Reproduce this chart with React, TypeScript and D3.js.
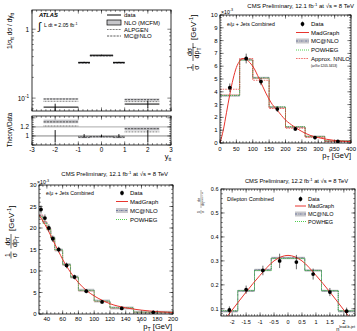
import * as d3 from "d3";
import { useEffect, useRef } from "react";

const FONT = "'Liberation Sans', Arial, Helvetica, sans-serif";
const RED = "#e8352e";
const PINK = "#f2a3a3";
const GREEN = "#3cc83c";
const BAND = "#c6c6ca";
const BLUEDASH = "#4a5a8c";

// ATLAS y_tt panel
const yttEdges = [-2.5, -1, -0.5, 0.5, 1, 2.5];
const yttData = [0.074, 0.33, 0.42, 0.33, 0.082];
const yttErr = [0.009, 0.006, 0.006, 0.006, 0.01];
const yttNloLo = [0.095, 0.318, 0.405, 0.318, 0.092];
const yttNloHi = [0.1, 0.33, 0.42, 0.33, 0.099];
const yttAlpgen = [0.09, 0.33, 0.415, 0.33, 0.089];
const yttMcnlo = [0.097, 0.322, 0.41, 0.322, 0.095];
const ratioNloLo = [1.28, 0.95, 0.96, 0.95, 1.12];
const ratioNloHi = [1.36, 0.99, 1.0, 0.99, 1.2];
const ratioAlpgen = [1.22, 0.99, 0.99, 0.99, 1.09];
const ratioMcnlo = [1.31, 0.97, 0.98, 0.97, 1.16];
const ratioErr = [0.13, 0.04, 0.03, 0.04, 0.13];
const yttTicks = [-3, -2, -1, 0, 1, 2, 3];

// top pT panel (x 10^-3)
const ptEdges = [0, 60, 100, 150, 200, 260, 320, 400];
const ptData = [4.32, 6.6, 4.8, 2.65, 1.1, 0.42, 0.12];
const ptErr = [0.25, 0.3, 0.2, 0.15, 0.08, 0.05, 0.03];
const ptMcnlo = [3.7, 6.5, 5.1, 2.8, 1.25, 0.5, 0.15];
const ptPowheg = [3.72, 6.48, 5.08, 2.82, 1.27, 0.51, 0.16];
const ptMadgraph = [3.75, 6.55, 5.05, 2.75, 1.22, 0.48, 0.14];
const ptNnlo = [4.2, 6.6, 4.9, 2.7, 1.15, 0.45, 0.13];
const ptCurveX = [0, 10, 20, 30, 40, 50, 60, 70, 80, 90, 100, 120, 140, 160, 175, 200, 225, 250, 275, 300, 350, 400];
const ptCurveY = [0, 1.0, 2.4, 3.8, 5.0, 5.9, 6.4, 6.6, 6.55, 6.3, 6.0, 5.0, 3.9, 3.0, 2.55, 1.8, 1.3, 0.9, 0.6, 0.42, 0.2, 0.1];
const ptTicks = [0, 50, 100, 150, 200, 250, 300, 350, 400];
const ptYTicks = [0, 1, 2, 3, 4, 5, 6, 7, 8, 9, 10];

// lepton pT panel (x 10^-3)
const lepEdges = [30, 35, 40, 45, 50, 60, 70, 80, 100, 120, 150, 200];
const lepData = [24.3, 22.3, 20.0, 17.5, 15.0, 11.3, 8.6, 5.3, 2.8, 1.3, 0.4];
const lepErr = [0.6, 0.5, 0.5, 0.4, 0.3, 0.3, 0.2, 0.15, 0.1, 0.05, 0.03];
const lepMcnlo = [22.8, 21.3, 19.8, 17.8, 14.9, 11.5, 8.6, 5.5, 3.0, 1.4, 0.4];
const lepPowheg = [22.6, 21.1, 19.6, 17.7, 14.9, 11.5, 8.6, 5.5, 3.0, 1.45, 0.42];
const lepMadgraph = [23.0, 21.5, 19.9, 17.7, 14.8, 11.4, 8.5, 5.4, 2.9, 1.35, 0.38];
const lepCurveX = [30, 35, 40, 45, 50, 55, 60, 70, 80, 90, 100, 110, 120, 140, 160, 180, 200];
const lepCurveY = [23, 21.6, 20, 18.2, 16.3, 14.5, 12.7, 9.7, 7.3, 5.5, 4.2, 3.2, 2.4, 1.45, 0.9, 0.55, 0.35];
const lepTicks = [40, 60, 80, 100, 120, 140, 160, 180, 200];
const lepYTicks = [0, 5, 10, 15, 20, 25, 30];

// leading b-jet eta panel
const etaEdges = [-2.4, -1.8, -1.2, -0.6, 0, 0.6, 1.2, 1.8, 2.4];
const etaData = [0.095, 0.18, 0.26, 0.3, 0.295, 0.245, 0.17, 0.09];
const etaErr = [0.01, 0.012, 0.015, 0.025, 0.025, 0.018, 0.012, 0.01];
const etaMcnlo = [0.09, 0.175, 0.262, 0.312, 0.312, 0.26, 0.175, 0.09];
const etaPowheg = [0.092, 0.176, 0.26, 0.31, 0.31, 0.26, 0.176, 0.092];
const etaCurveX = [-2.4, -2.0, -1.5, -1.0, -0.5, 0, 0.5, 1.0, 1.5, 2.0, 2.4];
const etaCurveY = [0.035, 0.095, 0.17, 0.24, 0.3, 0.323, 0.3, 0.24, 0.17, 0.095, 0.035];
const etaTicks = [-2, -1.5, -1, -0.5, 0, 0.5, 1, 1.5, 2];
const etaYTicks = [0.1, 0.2, 0.3, 0.4, 0.5, 0.6];

function rich(g: any, x: number, y: number, parts: any[], size: number, anchor = "start") {
  const t = g.append("text").attr("x", x).attr("y", y).attr("font-size", size).attr("text-anchor", anchor);
  let cur = 0;
  parts.forEach(([s, k]: any) => {
    const off = k === "sup" ? -size * 0.4 : k === "sub" ? size * 0.28 : 0;
    t.append("tspan").attr("dy", off - cur).attr("font-size", k === "sup" || k === "sub" ? size * 0.7 : size).text(s);
    cur = off;
  });
  return t;
}

function frame(g: any, x: any, y: any, o: any) {
  const [xl, xr] = x.range();
  const [yb, yt] = y.range();
  const p = d3.path();
  const inX = (v: number) => v >= x.domain()[0] - 1e-9 && v <= x.domain()[1] + 1e-9;
  const inY = (v: number) => v >= y.domain()[0] - 1e-9 && v <= y.domain()[1] + 1e-9;
  const xt = (v: number, len: number) => {
    if (!inX(v)) return;
    const px = x(v);
    p.moveTo(px, yb); p.lineTo(px, yb - len);
    p.moveTo(px, yt); p.lineTo(px, yt + len);
  };
  const yt2 = (v: number, len: number) => {
    if (!inY(v)) return;
    const py = y(v);
    p.moveTo(xl, py); p.lineTo(xl + len, py);
    p.moveTo(xr, py); p.lineTo(xr - len, py);
  };
  o.xMinor.forEach((v: number) => xt(v, 1.8));
  o.xMajor.forEach((v: number) => xt(v, 3.6));
  o.yMinor.forEach((v: number) => yt2(v, 1.8));
  o.yMajor.forEach((v: number) => yt2(v, 3.6));
  g.append("path").attr("d", p.toString()).attr("stroke", "#000").attr("stroke-width", 0.5).attr("fill", "none");
  g.append("rect").attr("x", xl).attr("y", yt).attr("width", xr - xl).attr("height", yb - yt)
    .attr("fill", "none").attr("stroke", "#000").attr("stroke-width", 0.8);
}

function stepPts(edges: number[], vals: number[]) {
  const pts: number[][] = [];
  vals.forEach((v, i) => { pts.push([edges[i], v]); pts.push([edges[i + 1], v]); });
  return pts;
}

function drawAtlas(g: any) {
  const x = d3.scaleLinear().domain([-3, 3]).range([32, 171]);
  const y = d3.scaleLog().domain([0.065, 1.9]).range([111, 10]);
  const yr = d3.scaleLinear().domain([0.8, 1.44]).range([145, 116]);
  const bins = yttData.map((_, i) => i);
  const seg = (sc: any, vals: number[], dash: string, w: number, col: string) => {
    bins.forEach((i) => {
      g.append("line").attr("x1", x(yttEdges[i])).attr("x2", x(yttEdges[i + 1]))
        .attr("y1", sc(vals[i])).attr("y2", sc(vals[i]))
        .attr("stroke", col).attr("stroke-width", w).attr("stroke-dasharray", dash);
    });
  };
  // upper pad
  bins.forEach((i) => {
    g.append("rect").attr("x", x(yttEdges[i])).attr("width", x(yttEdges[i + 1]) - x(yttEdges[i]))
      .attr("y", y(yttNloHi[i])).attr("height", Math.max(1.5, y(yttNloLo[i]) - y(yttNloHi[i])))
      .attr("fill", BAND);
  });
  seg(y, yttMcnlo, "2.2,1", 0.8, "#333");
  seg(y, yttAlpgen, "0.8,0.7", 0.8, "#333");
  seg(y, yttData, "", 1, "#000");
  bins.forEach((i) => {
    const cx = x((yttEdges[i] + yttEdges[i + 1]) / 2 + (i === 0 ? -0.5 : i === 4 ? 0.5 : 0) * 0.5);
    g.append("line").attr("x1", cx).attr("x2", cx).attr("y1", y(yttData[i] - yttErr[i])).attr("y2", y(yttData[i] + yttErr[i]))
      .attr("stroke", "#000").attr("stroke-width", 0.9);
  });
  frame(g, x, y, {
    xMajor: yttTicks, xMinor: d3.range(-3, 3.01, 0.2),
    yMajor: [0.1, 1], yMinor: [0.07, 0.08, 0.09, 0.2, 0.3, 0.4, 0.5, 0.6, 0.7, 0.8, 0.9],
  });
  rich(g, 29, y(1) + 2.5, [["1", "n"]], 6.5, "end");
  rich(g, 29, y(0.1) + 2.5, [["10", "n"], ["-1", "sup"]], 6.5, "end");

  // lower pad
  g.append("line").attr("x1", 32).attr("x2", 171).attr("y1", yr(1.2)).attr("y2", yr(1.2)).attr("stroke", "#bbb").attr("stroke-width", 1.4);
  g.append("line").attr("x1", 32).attr("x2", 171).attr("y1", yr(1)).attr("y2", yr(1)).attr("stroke", "#777").attr("stroke-width", 0.9);
  bins.forEach((i) => {
    g.append("rect").attr("x", x(yttEdges[i])).attr("width", x(yttEdges[i + 1]) - x(yttEdges[i]))
      .attr("y", yr(ratioNloHi[i])).attr("height", yr(ratioNloLo[i]) - yr(ratioNloHi[i]))
      .attr("fill", BAND);
  });
  seg(yr, ratioMcnlo, "2.2,1", 0.8, "#333");
  seg(yr, ratioAlpgen, "0.8,0.7", 0.8, "#333");
  bins.forEach((i) => {
    const cx = x((yttEdges[i] + yttEdges[i + 1]) / 2 + (i === 0 ? -0.5 : i === 4 ? 0.5 : 0) * 0.5);
    g.append("line").attr("x1", cx).attr("x2", cx).attr("y1", yr(1 - ratioErr[i])).attr("y2", yr(1 + ratioErr[i]))
      .attr("stroke", "#000").attr("stroke-width", 0.9);
  });
  frame(g, x, yr, {
    xMajor: yttTicks, xMinor: d3.range(-3, 3.01, 0.2),
    yMajor: [0.8, 1, 1.2, 1.4], yMinor: d3.range(0.8, 1.44, 0.05),
  });
  rich(g, 29, yr(1.2) + 2.3, [["1.2", "n"]], 6.3, "end");
  rich(g, 29, yr(1) + 2.3, [["1", "n"]], 6.3, "end");
  yttTicks.forEach((v) => rich(g, x(v), 152, [[String(v), "n"]], 6.3, "middle"));
  rich(g, 168, 159, [["y", "n"], ["tt", "sub"]], 7.5, "middle");

  // axis titles
  const yt = g.append("g").attr("transform", "translate(12,31) rotate(-90)");
  rich(yt, 0, 0, [["1/σ", "n"], ["tt", "sub"], [" dσ / dy", "n"], ["tt", "sub"]], 6.5, "middle");
  const rt = g.append("g").attr("transform", "translate(12,130) rotate(-90)");
  rich(rt, 0, 0, [["Theory/Data", "n"]], 6.3, "middle");

  // labels and legend
  g.append("text").attr("x", 39).attr("y", 17).attr("font-size", 5.8).attr("font-weight", "bold").attr("font-style", "italic").text("ATLAS");
  g.append("text").attr("x", 38).attr("y", 30).attr("font-size", 11).text("∫");
  rich(g, 44, 27, [["L dt = 2.05 fb", "n"], ["-1", "sup"]], 5.2);
  const ly = [15, 22.5, 29.5, 36];
  g.append("line").attr("x1", 107).attr("x2", 121).attr("y1", ly[0]).attr("y2", ly[0]).attr("stroke", "#000").attr("stroke-width", 1);
  g.append("rect").attr("x", 107).attr("y", ly[1] - 2.5).attr("width", 14).attr("height", 5).attr("fill", BAND).attr("stroke", "#000").attr("stroke-width", 0.7);
  g.append("line").attr("x1", 107).attr("x2", 121).attr("y1", ly[2]).attr("y2", ly[2]).attr("stroke", "#333").attr("stroke-width", 0.8).attr("stroke-dasharray", "0.8,0.7");
  g.append("line").attr("x1", 107).attr("x2", 121).attr("y1", ly[3]).attr("y2", ly[3]).attr("stroke", "#333").attr("stroke-width", 0.8).attr("stroke-dasharray", "2.2,1");
  ["data", "NLO (MCFM)", "ALPGEN", "MC@NLO"].forEach((s, i) => rich(g, 124, ly[i] + 2, [[s, "n"]], 6));
}

function drawCms(g: any, c: any) {
  const x = c.x, y = c.y;
  const clipId = c.id;
  g.append("clipPath").attr("id", clipId).append("rect")
    .attr("x", x.range()[0]).attr("y", y.range()[1]).attr("width", x.range()[1] - x.range()[0]).attr("height", y.range()[0] - y.range()[1]);
  const pg = g.append("g").attr("clip-path", `url(#${clipId})`);
  const line = d3.line().x((d: any) => x(d[0])).y((d: any) => y(d[1]));
  const area = d3.area().x((d: any) => x(d[0])).y0((d: any) => y(d[1] - c.band)).y1((d: any) => y(d[1] + c.band));
  pg.append("path").attr("d", area(stepPts(c.edges, c.mcnlo) as any)).attr("fill", BAND);
  if (c.madgraph)
    pg.append("path").attr("d", line(stepPts(c.edges, c.madgraph) as any)).attr("fill", "none").attr("stroke", PINK).attr("stroke-width", 1);
  else
    pg.append("path").attr("d", line(stepPts(c.edges, c.mcnlo) as any)).attr("fill", "none").attr("stroke", "#888").attr("stroke-width", 0.6);
  pg.append("path").attr("d", line(stepPts(c.edges, c.mcnlo) as any)).attr("fill", "none").attr("stroke", BLUEDASH).attr("stroke-width", 0.7).attr("stroke-dasharray", "2,1,0.6,1");
  pg.append("path").attr("d", line(stepPts(c.edges, c.powheg) as any)).attr("fill", "none").attr("stroke", GREEN).attr("stroke-width", 0.9).attr("stroke-dasharray", "1,1");
  if (c.nnlo)
    pg.append("path").attr("d", line(stepPts(c.edges, c.nnlo) as any)).attr("fill", "none").attr("stroke", RED).attr("stroke-width", 0.7).attr("stroke-dasharray", "1.6,1");
  const curve = d3.line().x((d: any) => x(d[0])).y((d: any) => y(d[1])).curve(d3.curveMonotoneX);
  pg.append("path").attr("d", curve(c.curveX.map((v: number, i: number) => [v, c.curveY[i]]))).attr("fill", "none").attr("stroke", RED).attr("stroke-width", 1);
  c.data.forEach((v: number, i: number) => {
    const cx = x((c.edges[i] + c.edges[i + 1]) / 2);
    pg.append("line").attr("x1", cx).attr("x2", cx).attr("y1", y(v - c.err[i] - c.band)).attr("y2", y(v + c.err[i] + c.band)).attr("stroke", "#000").attr("stroke-width", 0.6);
    pg.append("circle").attr("cx", cx).attr("cy", y(v)).attr("r", 1.9).attr("fill", "#000");
  });
  frame(g, x, y, c.axes);
  c.axes.xMajor.forEach((v: number) => rich(g, x(v), c.xLabelY, [[String(v), "n"]], c.fs, "middle"));
  c.axes.yMajor.forEach((v: number) => rich(g, x.range()[0] - 2.5, y(v) + 2, [[String(v), "n"]], c.fs, "end"));
  // legend
  const [lx0, lx1] = c.legX;
  const ly = c.legY;
  g.append("line").attr("x1", (lx0 + lx1) / 2).attr("x2", (lx0 + lx1) / 2).attr("y1", ly[0] - 2.5).attr("y2", ly[0] + 2.5).attr("stroke", "#000").attr("stroke-width", 0.6);
  g.append("circle").attr("cx", (lx0 + lx1) / 2).attr("cy", ly[0]).attr("r", 1.9).attr("fill", "#000");
  g.append("line").attr("x1", lx0).attr("x2", lx1).attr("y1", ly[1]).attr("y2", ly[1]).attr("stroke", RED).attr("stroke-width", 1);
  g.append("rect").attr("x", lx0).attr("y", ly[2] - 2.5).attr("width", lx1 - lx0).attr("height", 5).attr("fill", BAND);
  g.append("line").attr("x1", lx0).attr("x2", lx1).attr("y1", ly[2]).attr("y2", ly[2]).attr("stroke", BLUEDASH).attr("stroke-width", 0.7).attr("stroke-dasharray", "2,1,0.6,1");
  g.append("line").attr("x1", lx0).attr("x2", lx1).attr("y1", ly[3]).attr("y2", ly[3]).attr("stroke", GREEN).attr("stroke-width", 0.9).attr("stroke-dasharray", "1,1");
  const names = ["Data", "MadGraph", "MC@NLO", "POWHEG"];
  if (c.nnlo) {
    names.push("Approx. NNLO");
    g.append("line").attr("x1", lx0).attr("x2", lx1).attr("y1", ly[4]).attr("y2", ly[4]).attr("stroke", RED).attr("stroke-width", 0.7).attr("stroke-dasharray", "1.6,1");
  }
  names.forEach((s, i) => rich(g, lx1 + 2, ly[i] + 2, [[s, "n"]], c.legFs));
}

function drawTopPt(g: any) {
  const x = d3.scaleLinear().domain([0, 400]).range([220, 351]);
  const y = d3.scaleLinear().domain([0, 10]).range([143, 15]);
  drawCms(g, {
    id: "cp1", x, y, edges: ptEdges, data: ptData, err: ptErr, mcnlo: ptMcnlo, powheg: ptPowheg,
    madgraph: ptMadgraph, nnlo: ptNnlo, curveX: ptCurveX, curveY: ptCurveY, band: 0.08,
    axes: { xMajor: ptTicks, xMinor: d3.range(0, 401, 10), yMajor: ptYTicks, yMinor: d3.range(0, 10.01, 0.2) },
    xLabelY: 150.5, fs: 6, legX: [296, 309], legY: [24, 32.5, 41, 50, 58.5], legFs: 6,
  });
  rich(g, 354, 8, [["CMS Preliminary, 12.1 fb", "n"], ["-1", "sup"], [" at √s = 8 TeV", "n"]], 6, "end");
  rich(g, 221, 13.5, [["×10", "n"], ["-3", "sup"]], 5.2);
  rich(g, 227, 26, [["e/μ + Jets Combined", "n"]], 5.2);
  rich(g, 311, 67, [["(arXiv:1205.3453)", "n"]], 3.3);
  rich(g, 351, 158, [["p", "n"], ["T", "sub"], ["  [GeV]", "n"]], 7.5, "end");
  g.append("text").attr("x", 329).attr("y", 151.5).attr("font-size", 5).text("t");
  const t = g.append("g").attr("transform", "translate(193,73) rotate(-90)");
  rich(t, 5.5, -1.5, [["1", "n"]], 7, "middle");
  t.append("line").attr("x1", 2).attr("x2", 9).attr("y1", 0).attr("y2", 0).attr("stroke", "#000").attr("stroke-width", 0.6);
  rich(t, 5.5, 6.3, [["σ", "n"]], 7, "middle");
  rich(t, 21, -1.5, [["dσ", "n"]], 7, "middle");
  t.append("line").attr("x1", 12).attr("x2", 30).attr("y1", 0).attr("y2", 0).attr("stroke", "#000").attr("stroke-width", 0.6);
  rich(t, 20, 6.3, [["dp", "n"], ["T", "sub"]], 7, "middle");
  rich(t, 25, 3.2, [["t", "n"]], 4.5, "start");
  rich(t, 33, 2.8, [["[GeV", "n"], ["-1", "sup"], ["]", "n"]], 8);
}

function drawLepPt(g: any) {
  const x = d3.scaleLinear().domain([30, 200]).range([39, 173]);
  const y = d3.scaleLinear().domain([0, 30]).range([314, 185]);
  drawCms(g, {
    id: "cp2", x, y, edges: lepEdges, data: lepData, err: lepErr, mcnlo: lepMcnlo, powheg: lepPowheg,
    madgraph: lepMadgraph, curveX: lepCurveX, curveY: lepCurveY, band: 0.35,
    axes: { xMajor: lepTicks, xMinor: d3.range(30, 201, 5), yMajor: lepYTicks, yMinor: d3.range(0, 30.01, 1) },
    xLabelY: 321, fs: 6, legX: [116, 128], legY: [193, 201.5, 210.5, 219.5], legFs: 6,
  });
  rich(g, 168, 176, [["CMS Preliminary, 12.1 fb", "n"], ["-1", "sup"], [" at √s = 8 TeV", "n"]], 6, "end");
  rich(g, 37, 184, [["×10", "n"], ["-3", "sup"]], 5.2);
  rich(g, 46, 195, [["e/μ + Jets Combined", "n"]], 5.2);
  rich(g, 172, 329, [["p", "n"], ["T", "sub"], ["  [GeV]", "n"]], 7.5, "end");
  g.append("text").attr("x", 139).attr("y", 323).attr("font-size", 5).text("l");
  const t = g.append("g").attr("transform", "translate(11,262) rotate(-90)");
  rich(t, 7, -1.5, [["1", "n"]], 7, "middle");
  t.append("line").attr("x1", 3.5).attr("x2", 10.5).attr("y1", 0).attr("y2", 0).attr("stroke", "#000").attr("stroke-width", 0.6);
  rich(t, 7, 6.3, [["σ", "n"]], 7, "middle");
  rich(t, 20.5, -1.5, [["dσ", "n"]], 7, "middle");
  t.append("line").attr("x1", 13.5).attr("x2", 28).attr("y1", 0).attr("y2", 0).attr("stroke", "#000").attr("stroke-width", 0.6);
  rich(t, 20.5, 6.3, [["dp", "n"], ["T", "sub"]], 7, "middle");
  rich(t, 31, 2.8, [["[GeV", "n"], ["-1", "sup"], ["]", "n"]], 8);
}

function drawEta(g: any) {
  const x = d3.scaleLinear().domain([-2.4, 2.4]).range([221, 355]);
  const y = d3.scaleLinear().domain([0.07, 0.6]).range([316, 189]);
  drawCms(g, {
    id: "cp3", x, y, edges: etaEdges, data: etaData, err: etaErr, mcnlo: etaMcnlo, powheg: etaPowheg,
    curveX: etaCurveX, curveY: etaCurveY, band: 0.005,
    axes: { xMajor: etaTicks, xMinor: d3.range(-2.4, 2.41, 0.1), yMajor: etaYTicks, yMinor: d3.range(0.08, 0.6, 0.02) },
    xLabelY: 324, fs: 5.5, legX: [295, 306], legY: [199, 206, 214, 221.5], legFs: 5.5,
  });
  rich(g, 348, 183, [["CMS Preliminary, 12.2 fb", "n"], ["-1", "sup"], [" at √s =  8 TeV", "n"]], 5.8, "end");
  rich(g, 227, 201, [["Dilepton Combined", "n"]], 5.5);
  rich(g, 355, 330.5, [["η", "n"], ["lead.b-jet", "sup"]], 5.5, "end");
  const t = g.append("g").attr("transform", "translate(201,214) rotate(-90)");
  rich(t, 2, -0.8, [["1", "n"]], 3.5, "middle");
  t.append("line").attr("x1", 0).attr("x2", 4).attr("y1", 0).attr("y2", 0).attr("stroke", "#000").attr("stroke-width", 0.3);
  rich(t, 2, 3.3, [["σ", "n"]], 3.5, "middle");
  rich(t, 14, -0.8, [["dσ", "n"]], 3.5, "middle");
  t.append("line").attr("x1", 6).attr("x2", 24).attr("y1", 0).attr("y2", 0).attr("stroke", "#000").attr("stroke-width", 0.3);
  rich(t, 15, 3.3, [["dη", "n"], ["lead.b-jet", "sup"]], 3.5, "middle");
}

export default function App() {
  const ref = useRef<SVGSVGElement>(null);
  useEffect(() => {
    const svg = d3.select(ref.current);
    svg.selectAll("*").remove();
    drawAtlas(svg.append("g"));
    drawTopPt(svg.append("g"));
    drawLepPt(svg.append("g"));
    drawEta(svg.append("g"));
  }, []);
  return (
    <svg
      ref={ref}
      width={357}
      height={331}
      style={{ position: "absolute", left: 0, top: 0, background: "#fff" }}
      fontFamily={FONT}
    />
  );
}
